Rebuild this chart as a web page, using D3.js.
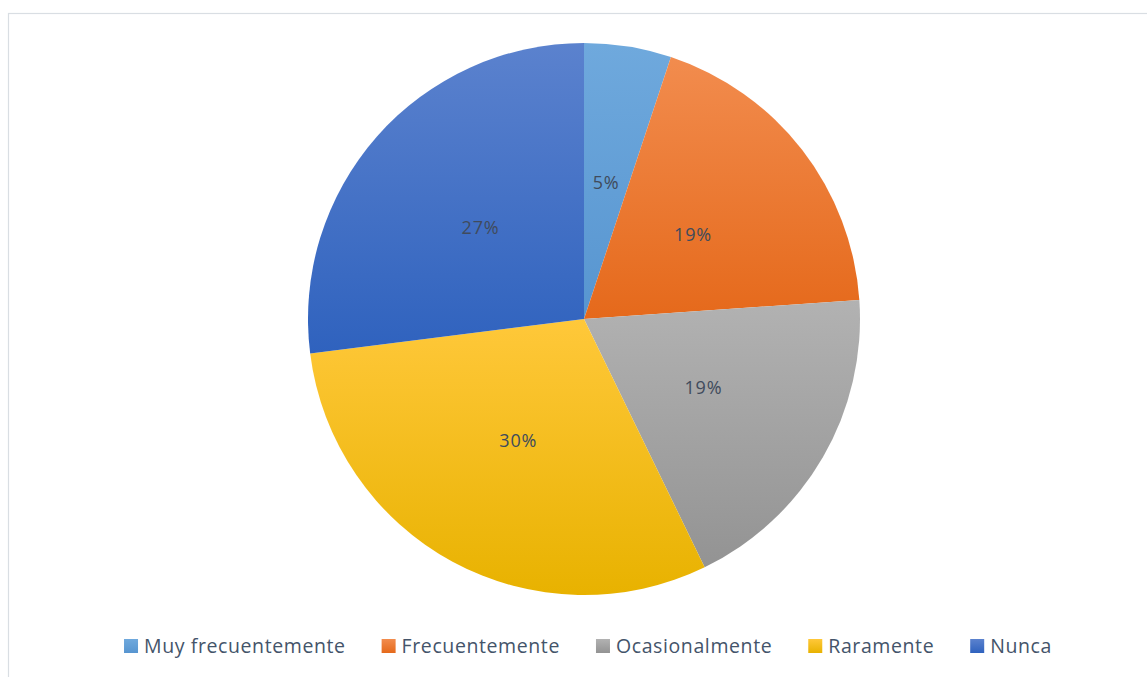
<!DOCTYPE html>
<html>
<head>
    <meta charset="utf-8">
    <title>Frecuencia</title>
    <script src="https://cdnjs.cloudflare.com/ajax/libs/d3/7.8.5/d3.min.js"></script>
    <style>
        html, body { margin: 0; padding: 0; background: #fff; }
        svg { display: block; }
    </style>
</head>
<body>
<svg id="chart" width="1147" height="677"></svg>
<script>
    // shares in percent
    var categories = ["Muy frecuentemente", "Frecuentemente", "Ocasionalmente", "Raramente", "Nunca"];
    var shares = [5.1, 18.8, 18.9, 30.2, 27.0];
    var topColors = ["#6FA9DD", "#F28C4E", "#B2B2B2", "#FFC83A", "#5B82CE"];
    var bottomColors = ["#5795D0", "#E5691B", "#939393", "#E8B200", "#2F62BE"];

    var cx = 584, cy = 319, radius = 276;
    var font = "'Open Sans', 'Noto Sans', sans-serif";

    var svg = d3.select("#chart");

    // chart area border
    svg.append("rect")
        .attr("x", 8.5).attr("y", 13.5)
        .attr("width", 1160).attr("height", 700)
        .attr("fill", "none")
        .attr("stroke", "#D9DEE3")
        .attr("stroke-width", 1.2);

    var defs = svg.append("defs");
    categories.forEach(function (c, i) {
        var g = defs.append("linearGradient")
            .attr("id", "grad" + i)
            .attr("x1", 0).attr("y1", 0).attr("x2", 0).attr("y2", 1);
        g.append("stop").attr("offset", "0%").attr("stop-color", topColors[i]);
        g.append("stop").attr("offset", "100%").attr("stop-color", bottomColors[i]);
    });

    var data = categories.map(function (c, i) { return { name: c, value: shares[i], i: i }; });
    var total = d3.sum(shares);

    var pie = d3.pie().sort(null).value(function (d) { return d.value; });
    var arc = d3.arc().innerRadius(0).outerRadius(radius);
    var labelArc = d3.arc().innerRadius(radius * 0.5).outerRadius(radius * 0.5);

    var g = svg.append("g").attr("transform", "translate(" + cx + "," + cy + ")");
    var arcs = pie(data);

    g.selectAll("path")
        .data(arcs)
        .join("path")
        .attr("d", arc)
        .attr("fill", function (d) { return "url(#grad" + d.data.i + ")"; });

    g.selectAll("text")
        .data(arcs)
        .join("text")
        .attr("transform", function (d) { return "translate(" + labelArc.centroid(d) + ")"; })
        .attr("text-anchor", "middle")
        .attr("dy", "0.35em")
        .attr("font-family", font)
        .attr("font-size", "18px")
        .attr("letter-spacing", "0.8px")
        .attr("fill", "#404B5C")
        .text(function (d) { return Math.round(d.data.value / total * 100) + "%"; });

    // legend, centred below the pie
    var legend = svg.append("g");
    var items = legend.selectAll("g")
        .data(data)
        .join("g");

    items.append("rect")
        .attr("width", 14).attr("height", 14)
        .attr("y", -7)
        .attr("fill", function (d) { return "url(#grad" + d.i + ")"; });

    items.append("text")
        .attr("x", 20)
        .attr("dy", "0.35em")
        .attr("font-family", font)
        .attr("font-size", "19.5px")
        .attr("letter-spacing", "0.6px")
        .attr("fill", "#44546A")
        .text(function (d) { return d.name; });

    var gap = 36, xpos = 0;
    items.each(function () {
        var w = 20 + d3.select(this).select("text").node().getComputedTextLength();
        d3.select(this).attr("transform", "translate(" + xpos + ",0)");
        xpos += w + gap;
    });
    var legendW = xpos - gap;
    legend.attr("transform", "translate(" + (588 - legendW / 2) + ",646)");
</script>
</body>
</html>
